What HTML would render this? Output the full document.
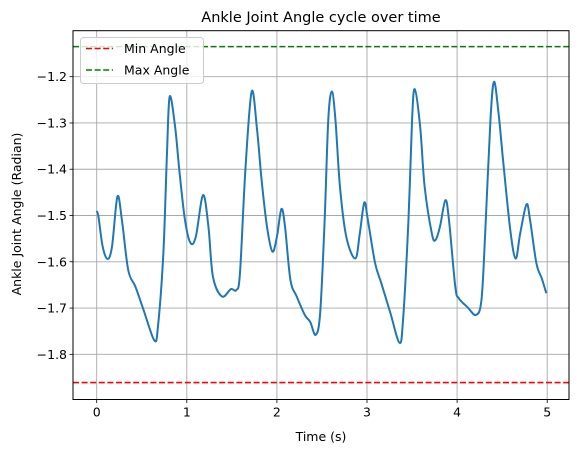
<!DOCTYPE html>
<html><head><meta charset="utf-8"><style>
html,body{margin:0;padding:0;background:#fff;}
svg{display:block;font-family:"DejaVu Sans","Liberation Sans",sans-serif;}
</style></head><body>
<svg id="chart" width="579" height="453" viewBox="0 0 579 453" xmlns="http://www.w3.org/2000/svg">
<g id="grid"></g>
<g id="ticks"></g>
<g id="series"></g>
<rect x="73" y="30.7" width="496" height="368.8" fill="none" stroke="#000" stroke-width="1"/>
<text x="321" y="22" font-size="14.5" text-anchor="middle">Ankle Joint Angle cycle over time</text>
<text x="321" y="441" font-size="12.5" text-anchor="middle">Time (s)</text>
<text x="21" y="214" font-size="12.5" text-anchor="middle" transform="rotate(-90 21 214)">Ankle Joint Angle (Radian)</text>
<g>
<rect x="80.5" y="37.5" width="123" height="46" rx="3" fill="#fff" fill-opacity="0.8" stroke="#ccc"/>
<line x1="86" y1="48.5" x2="113" y2="48.5" stroke="red" stroke-width="1.6" stroke-dasharray="6,2.6"/>
<text x="124" y="53" font-size="12.5">Min Angle</text>
<line x1="86" y1="70" x2="113" y2="70" stroke="green" stroke-width="1.6" stroke-dasharray="6,2.6"/>
<text x="124" y="74.5" font-size="12.5">Max Angle</text>
</g>
</svg>
<script>
const times=[0,0.02,0.066,0.12,0.17,0.23,0.28,0.35,0.43,0.52,0.64,0.68,0.74,0.78,0.81,0.87,0.92,0.98,1.04,1.10,1.18,1.24,1.29,1.39,1.49,1.55,1.59,1.65,1.72,1.78,1.83,1.89,1.95,2.0,2.05,2.09,2.15,2.22,2.31,2.37,2.43,2.48,2.53,2.57,2.61,2.65,2.70,2.77,2.87,2.92,2.97,3.01,3.09,3.16,3.26,3.36,3.40,3.46,3.50,3.53,3.59,3.64,3.72,3.76,3.81,3.87,3.91,3.98,4.02,4.11,4.21,4.27,4.31,4.37,4.41,4.46,4.51,4.59,4.65,4.70,4.77,4.81,4.88,4.94,4.99];
const angles=[-1.490,-1.503,-1.567,-1.594,-1.567,-1.459,-1.510,-1.618,-1.654,-1.704,-1.770,-1.740,-1.581,-1.365,-1.243,-1.308,-1.408,-1.510,-1.559,-1.546,-1.456,-1.524,-1.632,-1.675,-1.659,-1.661,-1.625,-1.402,-1.232,-1.315,-1.423,-1.524,-1.578,-1.546,-1.486,-1.524,-1.639,-1.675,-1.715,-1.730,-1.758,-1.711,-1.510,-1.294,-1.232,-1.294,-1.438,-1.546,-1.593,-1.539,-1.472,-1.510,-1.603,-1.647,-1.711,-1.775,-1.726,-1.510,-1.294,-1.227,-1.308,-1.438,-1.539,-1.553,-1.524,-1.467,-1.510,-1.654,-1.679,-1.697,-1.715,-1.683,-1.546,-1.294,-1.211,-1.279,-1.380,-1.531,-1.593,-1.539,-1.476,-1.510,-1.603,-1.636,-1.668];
const minAngle=-1.861;
const maxAngle=-1.135;
const xTicks=[0,1,2,3,4,5];
const yTicks=[-1.8,-1.7,-1.6,-1.5,-1.4,-1.3,-1.2];
const yTickLabels=["−1.8","−1.7","−1.6","−1.5","−1.4","−1.3","−1.2"];

const L=73,R=569,T=30.7,B=399.5;
const xs=t=>96.7+t*90.1;
const ys=v=>76.7+(-1.2-v)*462.7;
const NS='http://www.w3.org/2000/svg';
function mk(tag,attrs,parent){const e=document.createElementNS(NS,tag);for(const k in attrs)e.setAttribute(k,attrs[k]);parent.appendChild(e);return e;}
const grid=document.getElementById('grid'),ticks=document.getElementById('ticks'),series=document.getElementById('series');
xTicks.forEach(t=>{
  const x=xs(t);
  const g=mk('line',{x1:x,x2:x,y1:T,y2:B,stroke:'#a8a8a8','stroke-width':0.9},grid);
  
  
  const tk=mk('line',{x1:x,x2:x,y1:B,y2:B+3.5,stroke:'#000','stroke-width':0.8},ticks);
  
  
  const lb=mk('text',{x:x,y:B+17,'font-size':12.5,'text-anchor':'middle'},ticks);
  lb.textContent=String(t);
  
  
});
yTicks.forEach((v,i)=>{
  const y=ys(v);
  const g=mk('line',{x1:L,x2:R,y1:y,y2:y,stroke:'#a8a8a8','stroke-width':0.9},grid);
  
  
  const tk=mk('line',{x1:L-3.5,x2:L,y1:y,y2:y,stroke:'#000','stroke-width':0.8},ticks);
  
  
  const lb=mk('text',{x:L-6,y:y+4.5,'font-size':12.5,'text-anchor':'end'},ticks);
  lb.textContent=yTickLabels[i];
  
  
});
const minL=mk('line',{x1:L,x2:R,y1:ys(minAngle),y2:ys(minAngle),stroke:'red','stroke-width':1.6,'stroke-dasharray':'6,2.6'},series);


const maxL=mk('line',{x1:L,x2:R,y1:ys(maxAngle),y2:ys(maxAngle),stroke:'green','stroke-width':1.6,'stroke-dasharray':'6,2.6'},series);


const P=times.map((t,i)=>[xs(t),ys(angles[i])]);
let d='M'+P[0][0].toFixed(2)+','+P[0][1].toFixed(2);
for(let i=0;i<P.length-1;i++){
  const p0=P[Math.max(0,i-1)],p1=P[i],p2=P[i+1],p3=P[Math.min(P.length-1,i+2)];
  const c1x=p1[0]+(p2[0]-p0[0])/6,c1y=p1[1]+(p2[1]-p0[1])/6;
  const c2x=p2[0]-(p3[0]-p1[0])/6,c2y=p2[1]-(p3[1]-p1[1])/6;
  d+=' C'+c1x.toFixed(2)+','+c1y.toFixed(2)+' '+c2x.toFixed(2)+','+c2y.toFixed(2)+' '+p2[0].toFixed(2)+','+p2[1].toFixed(2);
}
const line=mk('path',{d:d,fill:'none',stroke:'#1f77b4','stroke-width':2,'stroke-linejoin':'round'},series);


</script>
</body></html>
